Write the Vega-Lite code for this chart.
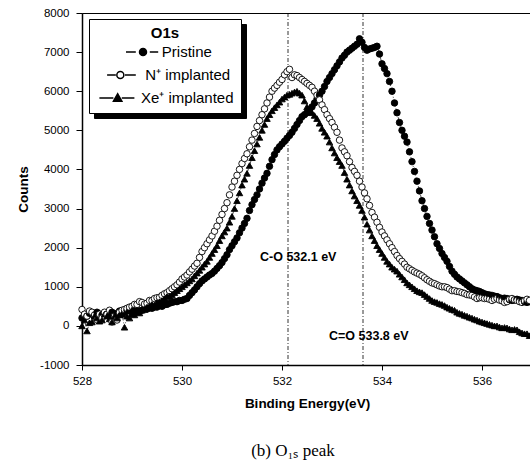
{
  "$schema": "https://vega.github.io/schema/vega-lite/v6.json",
  "width": 450,
  "height": 352,
  "autosize": "none",
  "padding": {"left": 82, "top": 13, "right": 0, "bottom": 100},
  "background": "white",
  "title": {"text": "(b) O₁ₛ peak", "orient": "bottom", "anchor": "middle", "frame": "group", "font": "Liberation Serif", "fontSize": 17, "fontWeight": "normal", "color": "black", "offset": 33, "dx": -14},
  "datasets": {
    "xps": [
      {"e":528.00,"Pristine":200,"N⁺ implanted":420,"Xe⁺ implanted":0},
      {"e":528.05,"Pristine":280,"N⁺ implanted":300,"Xe⁺ implanted":150},
      {"e":528.10,"Pristine":250,"N⁺ implanted":250,"Xe⁺ implanted":-130},
      {"e":528.15,"Pristine":320,"N⁺ implanted":380,"Xe⁺ implanted":80},
      {"e":528.20,"Pristine":300,"N⁺ implanted":350,"Xe⁺ implanted":100},
      {"e":528.25,"Pristine":250,"N⁺ implanted":280,"Xe⁺ implanted":250},
      {"e":528.30,"Pristine":350,"N⁺ implanted":150,"Xe⁺ implanted":200},
      {"e":528.35,"Pristine":300,"N⁺ implanted":300,"Xe⁺ implanted":120},
      {"e":528.40,"Pristine":280,"N⁺ implanted":200,"Xe⁺ implanted":150},
      {"e":528.45,"Pristine":330,"N⁺ implanted":350,"Xe⁺ implanted":300},
      {"e":528.50,"Pristine":300,"N⁺ implanted":300,"Xe⁺ implanted":250},
      {"e":528.55,"Pristine":250,"N⁺ implanted":400,"Xe⁺ implanted":180},
      {"e":528.60,"Pristine":350,"N⁺ implanted":100,"Xe⁺ implanted":100},
      {"e":528.65,"Pristine":300,"N⁺ implanted":250,"Xe⁺ implanted":250},
      {"e":528.70,"Pristine":320,"N⁺ implanted":150,"Xe⁺ implanted":200},
      {"e":528.75,"Pristine":380,"N⁺ implanted":350,"Xe⁺ implanted":280},
      {"e":528.80,"Pristine":300,"N⁺ implanted":400,"Xe⁺ implanted":300},
      {"e":528.85,"Pristine":350,"N⁺ implanted":420,"Xe⁺ implanted":-35},
      {"e":528.90,"Pristine":400,"N⁺ implanted":450,"Xe⁺ implanted":250},
      {"e":528.95,"Pristine":380,"N⁺ implanted":480,"Xe⁺ implanted":200},
      {"e":529.00,"Pristine":350,"N⁺ implanted":500,"Xe⁺ implanted":300},
      {"e":529.05,"Pristine":420,"N⁺ implanted":550,"Xe⁺ implanted":280},
      {"e":529.10,"Pristine":400,"N⁺ implanted":550,"Xe⁺ implanted":350},
      {"e":529.15,"Pristine":380,"N⁺ implanted":620,"Xe⁺ implanted":330},
      {"e":529.20,"Pristine":400,"N⁺ implanted":600,"Xe⁺ implanted":400},
      {"e":529.25,"Pristine":450,"N⁺ implanted":560,"Xe⁺ implanted":420},
      {"e":529.30,"Pristine":430,"N⁺ implanted":580,"Xe⁺ implanted":480},
      {"e":529.35,"Pristine":460,"N⁺ implanted":650,"Xe⁺ implanted":500},
      {"e":529.40,"Pristine":450,"N⁺ implanted":650,"Xe⁺ implanted":550},
      {"e":529.45,"Pristine":480,"N⁺ implanted":700,"Xe⁺ implanted":520},
      {"e":529.50,"Pristine":480,"N⁺ implanted":720,"Xe⁺ implanted":600},
      {"e":529.55,"Pristine":520,"N⁺ implanted":730,"Xe⁺ implanted":620},
      {"e":529.60,"Pristine":500,"N⁺ implanted":780,"Xe⁺ implanted":650},
      {"e":529.65,"Pristine":540,"N⁺ implanted":820,"Xe⁺ implanted":700},
      {"e":529.70,"Pristine":550,"N⁺ implanted":850,"Xe⁺ implanted":750},
      {"e":529.75,"Pristine":580,"N⁺ implanted":900,"Xe⁺ implanted":760},
      {"e":529.80,"Pristine":600,"N⁺ implanted":950,"Xe⁺ implanted":800},
      {"e":529.85,"Pristine":620,"N⁺ implanted":1000,"Xe⁺ implanted":850},
      {"e":529.90,"Pristine":620,"N⁺ implanted":1050,"Xe⁺ implanted":900},
      {"e":529.95,"Pristine":650,"N⁺ implanted":1120,"Xe⁺ implanted":950},
      {"e":530.00,"Pristine":650,"N⁺ implanted":1200,"Xe⁺ implanted":1000},
      {"e":530.05,"Pristine":680,"N⁺ implanted":1250,"Xe⁺ implanted":1050},
      {"e":530.10,"Pristine":700,"N⁺ implanted":1300,"Xe⁺ implanted":1100},
      {"e":530.15,"Pristine":780,"N⁺ implanted":1380,"Xe⁺ implanted":1150},
      {"e":530.20,"Pristine":850,"N⁺ implanted":1450,"Xe⁺ implanted":1200},
      {"e":530.25,"Pristine":920,"N⁺ implanted":1530,"Xe⁺ implanted":1280},
      {"e":530.30,"Pristine":1000,"N⁺ implanted":1600,"Xe⁺ implanted":1350},
      {"e":530.35,"Pristine":1080,"N⁺ implanted":1750,"Xe⁺ implanted":1420},
      {"e":530.40,"Pristine":1150,"N⁺ implanted":1900,"Xe⁺ implanted":1500},
      {"e":530.45,"Pristine":1200,"N⁺ implanted":2000,"Xe⁺ implanted":1580},
      {"e":530.50,"Pristine":1250,"N⁺ implanted":2100,"Xe⁺ implanted":1650},
      {"e":530.55,"Pristine":1300,"N⁺ implanted":2200,"Xe⁺ implanted":1750},
      {"e":530.60,"Pristine":1340,"N⁺ implanted":2300,"Xe⁺ implanted":1850},
      {"e":530.65,"Pristine":1400,"N⁺ implanted":2420,"Xe⁺ implanted":1950},
      {"e":530.70,"Pristine":1470,"N⁺ implanted":2550,"Xe⁺ implanted":2050},
      {"e":530.75,"Pristine":1540,"N⁺ implanted":2700,"Xe⁺ implanted":2180},
      {"e":530.80,"Pristine":1620,"N⁺ implanted":2850,"Xe⁺ implanted":2300},
      {"e":530.85,"Pristine":1720,"N⁺ implanted":3000,"Xe⁺ implanted":2400},
      {"e":530.90,"Pristine":1820,"N⁺ implanted":3150,"Xe⁺ implanted":2500},
      {"e":530.95,"Pristine":1950,"N⁺ implanted":3350,"Xe⁺ implanted":2650},
      {"e":531.00,"Pristine":2050,"N⁺ implanted":3550,"Xe⁺ implanted":2800},
      {"e":531.05,"Pristine":2150,"N⁺ implanted":3700,"Xe⁺ implanted":3000},
      {"e":531.10,"Pristine":2250,"N⁺ implanted":3850,"Xe⁺ implanted":3200},
      {"e":531.15,"Pristine":2380,"N⁺ implanted":4000,"Xe⁺ implanted":3400},
      {"e":531.20,"Pristine":2500,"N⁺ implanted":4150,"Xe⁺ implanted":3600},
      {"e":531.25,"Pristine":2620,"N⁺ implanted":4280,"Xe⁺ implanted":3750},
      {"e":531.30,"Pristine":2750,"N⁺ implanted":4400,"Xe⁺ implanted":3900},
      {"e":531.35,"Pristine":2950,"N⁺ implanted":4580,"Xe⁺ implanted":4100},
      {"e":531.40,"Pristine":3100,"N⁺ implanted":4750,"Xe⁺ implanted":4300},
      {"e":531.45,"Pristine":3230,"N⁺ implanted":4920,"Xe⁺ implanted":4480},
      {"e":531.50,"Pristine":3350,"N⁺ implanted":5100,"Xe⁺ implanted":4650},
      {"e":531.55,"Pristine":3500,"N⁺ implanted":5250,"Xe⁺ implanted":4820},
      {"e":531.60,"Pristine":3650,"N⁺ implanted":5400,"Xe⁺ implanted":5000},
      {"e":531.65,"Pristine":3780,"N⁺ implanted":5550,"Xe⁺ implanted":5150},
      {"e":531.70,"Pristine":3900,"N⁺ implanted":5700,"Xe⁺ implanted":5300},
      {"e":531.75,"Pristine":4080,"N⁺ implanted":5850,"Xe⁺ implanted":5400},
      {"e":531.80,"Pristine":4250,"N⁺ implanted":6000,"Xe⁺ implanted":5500},
      {"e":531.85,"Pristine":4380,"N⁺ implanted":6080,"Xe⁺ implanted":5580},
      {"e":531.90,"Pristine":4500,"N⁺ implanted":6150,"Xe⁺ implanted":5650},
      {"e":531.95,"Pristine":4580,"N⁺ implanted":6230,"Xe⁺ implanted":5720},
      {"e":532.00,"Pristine":4650,"N⁺ implanted":6300,"Xe⁺ implanted":5800},
      {"e":532.05,"Pristine":4720,"N⁺ implanted":6420,"Xe⁺ implanted":5850},
      {"e":532.10,"Pristine":4800,"N⁺ implanted":6500,"Xe⁺ implanted":5900},
      {"e":532.15,"Pristine":4870,"N⁺ implanted":6560,"Xe⁺ implanted":5920},
      {"e":532.20,"Pristine":4950,"N⁺ implanted":6350,"Xe⁺ implanted":5950},
      {"e":532.25,"Pristine":5050,"N⁺ implanted":6420,"Xe⁺ implanted":5980},
      {"e":532.30,"Pristine":5150,"N⁺ implanted":6400,"Xe⁺ implanted":6000},
      {"e":532.35,"Pristine":5250,"N⁺ implanted":6350,"Xe⁺ implanted":5950},
      {"e":532.40,"Pristine":5350,"N⁺ implanted":6300,"Xe⁺ implanted":5900},
      {"e":532.45,"Pristine":5400,"N⁺ implanted":6250,"Xe⁺ implanted":5750},
      {"e":532.50,"Pristine":5450,"N⁺ implanted":6200,"Xe⁺ implanted":5600},
      {"e":532.55,"Pristine":5520,"N⁺ implanted":6150,"Xe⁺ implanted":5520},
      {"e":532.60,"Pristine":5600,"N⁺ implanted":6100,"Xe⁺ implanted":5450},
      {"e":532.65,"Pristine":5700,"N⁺ implanted":6000,"Xe⁺ implanted":5380},
      {"e":532.70,"Pristine":5800,"N⁺ implanted":5900,"Xe⁺ implanted":5300},
      {"e":532.75,"Pristine":5900,"N⁺ implanted":5780,"Xe⁺ implanted":5180},
      {"e":532.80,"Pristine":6000,"N⁺ implanted":5650,"Xe⁺ implanted":5050},
      {"e":532.85,"Pristine":6120,"N⁺ implanted":5530,"Xe⁺ implanted":4950},
      {"e":532.90,"Pristine":6250,"N⁺ implanted":5400,"Xe⁺ implanted":4850},
      {"e":532.95,"Pristine":6350,"N⁺ implanted":5300,"Xe⁺ implanted":4700},
      {"e":533.00,"Pristine":6450,"N⁺ implanted":5200,"Xe⁺ implanted":4550},
      {"e":533.05,"Pristine":6550,"N⁺ implanted":5080,"Xe⁺ implanted":4420},
      {"e":533.10,"Pristine":6650,"N⁺ implanted":4950,"Xe⁺ implanted":4300},
      {"e":533.15,"Pristine":6750,"N⁺ implanted":4750,"Xe⁺ implanted":4200},
      {"e":533.20,"Pristine":6850,"N⁺ implanted":4550,"Xe⁺ implanted":4100},
      {"e":533.25,"Pristine":6920,"N⁺ implanted":4450,"Xe⁺ implanted":3920},
      {"e":533.30,"Pristine":7000,"N⁺ implanted":4350,"Xe⁺ implanted":3750},
      {"e":533.35,"Pristine":7050,"N⁺ implanted":4200,"Xe⁺ implanted":3600},
      {"e":533.40,"Pristine":7100,"N⁺ implanted":4050,"Xe⁺ implanted":3450},
      {"e":533.45,"Pristine":7150,"N⁺ implanted":3950,"Xe⁺ implanted":3320},
      {"e":533.50,"Pristine":7200,"N⁺ implanted":3850,"Xe⁺ implanted":3200},
      {"e":533.55,"Pristine":7340,"N⁺ implanted":3700,"Xe⁺ implanted":3080},
      {"e":533.60,"Pristine":7250,"N⁺ implanted":3550,"Xe⁺ implanted":2950},
      {"e":533.65,"Pristine":7120,"N⁺ implanted":3400,"Xe⁺ implanted":2780},
      {"e":533.70,"Pristine":7050,"N⁺ implanted":3250,"Xe⁺ implanted":2600},
      {"e":533.75,"Pristine":7080,"N⁺ implanted":3080,"Xe⁺ implanted":2450},
      {"e":533.80,"Pristine":7100,"N⁺ implanted":2900,"Xe⁺ implanted":2300},
      {"e":533.85,"Pristine":7120,"N⁺ implanted":2780,"Xe⁺ implanted":2180},
      {"e":533.90,"Pristine":7150,"N⁺ implanted":2650,"Xe⁺ implanted":2050},
      {"e":533.95,"Pristine":6950,"N⁺ implanted":2520,"Xe⁺ implanted":1950},
      {"e":534.00,"Pristine":6700,"N⁺ implanted":2400,"Xe⁺ implanted":1850},
      {"e":534.05,"Pristine":6580,"N⁺ implanted":2300,"Xe⁺ implanted":1750},
      {"e":534.10,"Pristine":6450,"N⁺ implanted":2200,"Xe⁺ implanted":1650},
      {"e":534.15,"Pristine":6250,"N⁺ implanted":2100,"Xe⁺ implanted":1580},
      {"e":534.20,"Pristine":6000,"N⁺ implanted":2000,"Xe⁺ implanted":1500},
      {"e":534.25,"Pristine":5700,"N⁺ implanted":1900,"Xe⁺ implanted":1450},
      {"e":534.30,"Pristine":5450,"N⁺ implanted":1800,"Xe⁺ implanted":1400},
      {"e":534.35,"Pristine":5200,"N⁺ implanted":1720,"Xe⁺ implanted":1320},
      {"e":534.40,"Pristine":5000,"N⁺ implanted":1650,"Xe⁺ implanted":1250},
      {"e":534.45,"Pristine":4850,"N⁺ implanted":1580,"Xe⁺ implanted":1180},
      {"e":534.50,"Pristine":4700,"N⁺ implanted":1500,"Xe⁺ implanted":1100},
      {"e":534.55,"Pristine":4450,"N⁺ implanted":1460,"Xe⁺ implanted":1050},
      {"e":534.60,"Pristine":4200,"N⁺ implanted":1420,"Xe⁺ implanted":1000},
      {"e":534.65,"Pristine":3950,"N⁺ implanted":1380,"Xe⁺ implanted":950},
      {"e":534.70,"Pristine":3700,"N⁺ implanted":1350,"Xe⁺ implanted":900},
      {"e":534.75,"Pristine":3450,"N⁺ implanted":1320,"Xe⁺ implanted":870},
      {"e":534.80,"Pristine":3200,"N⁺ implanted":1280,"Xe⁺ implanted":850},
      {"e":534.85,"Pristine":3000,"N⁺ implanted":1230,"Xe⁺ implanted":800},
      {"e":534.90,"Pristine":2800,"N⁺ implanted":1180,"Xe⁺ implanted":750},
      {"e":534.95,"Pristine":2620,"N⁺ implanted":1140,"Xe⁺ implanted":700},
      {"e":535.00,"Pristine":2450,"N⁺ implanted":1100,"Xe⁺ implanted":650},
      {"e":535.05,"Pristine":2280,"N⁺ implanted":1080,"Xe⁺ implanted":620},
      {"e":535.10,"Pristine":2100,"N⁺ implanted":1050,"Xe⁺ implanted":600},
      {"e":535.15,"Pristine":1980,"N⁺ implanted":1020,"Xe⁺ implanted":570},
      {"e":535.20,"Pristine":1850,"N⁺ implanted":1000,"Xe⁺ implanted":550},
      {"e":535.25,"Pristine":1750,"N⁺ implanted":1000,"Xe⁺ implanted":520},
      {"e":535.30,"Pristine":1650,"N⁺ implanted":980,"Xe⁺ implanted":480},
      {"e":535.35,"Pristine":1520,"N⁺ implanted":940,"Xe⁺ implanted":450},
      {"e":535.40,"Pristine":1400,"N⁺ implanted":900,"Xe⁺ implanted":420},
      {"e":535.45,"Pristine":1320,"N⁺ implanted":900,"Xe⁺ implanted":400},
      {"e":535.50,"Pristine":1250,"N⁺ implanted":880,"Xe⁺ implanted":350},
      {"e":535.55,"Pristine":1200,"N⁺ implanted":870,"Xe⁺ implanted":320},
      {"e":535.60,"Pristine":1150,"N⁺ implanted":850,"Xe⁺ implanted":300},
      {"e":535.65,"Pristine":1100,"N⁺ implanted":830,"Xe⁺ implanted":270},
      {"e":535.70,"Pristine":1050,"N⁺ implanted":800,"Xe⁺ implanted":250},
      {"e":535.75,"Pristine":1000,"N⁺ implanted":790,"Xe⁺ implanted":220},
      {"e":535.80,"Pristine":950,"N⁺ implanted":780,"Xe⁺ implanted":200},
      {"e":535.85,"Pristine":920,"N⁺ implanted":740,"Xe⁺ implanted":170},
      {"e":535.90,"Pristine":900,"N⁺ implanted":700,"Xe⁺ implanted":150},
      {"e":535.95,"Pristine":880,"N⁺ implanted":720,"Xe⁺ implanted":120},
      {"e":536.00,"Pristine":850,"N⁺ implanted":720,"Xe⁺ implanted":100},
      {"e":536.05,"Pristine":820,"N⁺ implanted":700,"Xe⁺ implanted":80},
      {"e":536.10,"Pristine":800,"N⁺ implanted":700,"Xe⁺ implanted":60},
      {"e":536.15,"Pristine":790,"N⁺ implanted":680,"Xe⁺ implanted":40},
      {"e":536.20,"Pristine":780,"N⁺ implanted":650,"Xe⁺ implanted":20},
      {"e":536.25,"Pristine":760,"N⁺ implanted":680,"Xe⁺ implanted":0},
      {"e":536.30,"Pristine":750,"N⁺ implanted":700,"Xe⁺ implanted":0},
      {"e":536.35,"Pristine":720,"N⁺ implanted":660,"Xe⁺ implanted":-30},
      {"e":536.40,"Pristine":700,"N⁺ implanted":640,"Xe⁺ implanted":-50},
      {"e":536.45,"Pristine":710,"N⁺ implanted":600,"Xe⁺ implanted":-40},
      {"e":536.50,"Pristine":700,"N⁺ implanted":620,"Xe⁺ implanted":-50},
      {"e":536.55,"Pristine":670,"N⁺ implanted":680,"Xe⁺ implanted":-80},
      {"e":536.60,"Pristine":650,"N⁺ implanted":700,"Xe⁺ implanted":-100},
      {"e":536.65,"Pristine":660,"N⁺ implanted":670,"Xe⁺ implanted":-90},
      {"e":536.70,"Pristine":680,"N⁺ implanted":650,"Xe⁺ implanted":-100},
      {"e":536.75,"Pristine":660,"N⁺ implanted":620,"Xe⁺ implanted":-150},
      {"e":536.80,"Pristine":650,"N⁺ implanted":600,"Xe⁺ implanted":-180},
      {"e":536.85,"Pristine":620,"N⁺ implanted":640,"Xe⁺ implanted":-200},
      {"e":536.90,"Pristine":600,"N⁺ implanted":680,"Xe⁺ implanted":-200},
      {"e":536.95,"Pristine":620,"N⁺ implanted":650,"Xe⁺ implanted":-250}
    ],
    "refs": [{"e": 532.12}, {"e": 533.62}],
    "notes": [
      {"e": 531.56, "c": 1755, "t": "C-O 532.1 eV"},
      {"e": 532.94, "c": -265, "t": "C=O 533.8 eV"}
    ],
    "keys": []
  },
  "layer": [
    {
      "data": {"name": "refs"},
      "mark": {"type": "rule", "stroke": "black", "strokeWidth": 0.8, "strokeDash": [4, 2, 1, 2]},
      "encoding": {
        "x": {
          "field": "e", "type": "quantitative",
          "scale": {"domain": [528, 537], "nice": false, "zero": false},
          "axis": {"title": "Binding Energy(eV)", "values": [528, 530, 532, 534, 536], "tickCount": 20, "labelExpr": "'' + datum.value", "labelOverlap": false}
        }
      }
    },
    {
      "data": {"name": "xps"},
      "transform": [{"fold": ["Pristine", "N⁺ implanted", "Xe⁺ implanted"], "as": ["series", "counts"]}],
      "mark": {"type": "line", "stroke": "black", "strokeWidth": 0.7},
      "encoding": {
        "x": {"field": "e", "type": "quantitative"},
        "y": {
          "field": "counts", "type": "quantitative",
          "scale": {"domain": [-1000, 8000], "nice": false, "zero": false},
          "axis": {"title": "Counts", "values": [-1000, 0, 1000, 2000, 3000, 4000, 5000, 6000, 7000, 8000], "tickCount": 20, "labelExpr": "'' + datum.value", "labelOverlap": false}
        },
        "strokeDash": {
          "field": "series", "type": "nominal",
          "scale": {"domain": ["Xe⁺ implanted", "N⁺ implanted", "Pristine"], "range": [[4, 2, 1, 2], [4, 2, 1, 2], [4, 2, 1, 2]]},
          "legend": {
            "title": "O1s", "orient": "none", "legendX": 12, "legendY": 11, "zindex": 0,
            "fillColor": "black", "strokeColor": "black", "labelColor": "black", "titleColor": "black", "symbolStrokeColor": "black"
          }
        }
      }
    },
    {
      "data": {"name": "xps"},
      "transform": [{"fold": ["Pristine", "N⁺ implanted", "Xe⁺ implanted"], "as": ["series", "counts"]}],
      "mark": {"type": "point", "filled": true, "stroke": "black", "strokeWidth": 0.9, "opacity": 1, "size": 42},
      "encoding": {
        "x": {"field": "e", "type": "quantitative"},
        "y": {"field": "counts", "type": "quantitative"},
        "shape": {
          "field": "series", "type": "nominal", "legend": null,
          "scale": {"domain": ["Pristine", "N⁺ implanted", "Xe⁺ implanted"], "range": ["circle", "circle", "triangle-up"]}
        },
        "fill": {
          "field": "series", "type": "nominal", "legend": null,
          "scale": {"domain": ["Pristine", "N⁺ implanted", "Xe⁺ implanted"], "range": ["black", "white", "black"]}
        }
      }
    },
    {
      "data": {"name": "keys"},
      "mark": {"type": "point", "filled": true, "stroke": "black", "strokeWidth": 1.1, "opacity": 1},
      "encoding": {
        "x": {"field": "e", "type": "quantitative"},
        "y": {"field": "c", "type": "quantitative"},
        "shape": {
          "field": "series", "type": "nominal",
          "scale": {"domain": ["Pristine", "N⁺ implanted", "Xe⁺ implanted"], "range": [
            "M1.5,0H2.9M4.9,0H6.1M3.43,0A0.5,0.5 0 1,0 4.43,0A0.5,0.5 0 1,0 3.43,0Z",
            "M-1.2,0H0.05M1.35,0H2.9M0.19,0A0.5,0.5 0 1,0 1.19,0A0.5,0.5 0 1,0 0.19,0Z",
            "M-2.3,0H-0.3M0.9,0H2.7M-0.29,0.45L0.31,-0.6L0.91,0.45Z"
          ]},
          "legend": {"title": "O1s", "zindex": 1, "labelExpr": "datum.label == 'Pristine' ? '\u200b\u00a0\u00a0\u00a0\u00a0\u00a0Pristine' : datum.label == 'N⁺ implanted' ? '\u200b\u00a0N⁺ implanted' : datum.label"}
        },
        "fill": {
          "field": "series", "type": "nominal",
          "scale": {"domain": ["Pristine", "N⁺ implanted", "Xe⁺ implanted"], "range": ["black", "white", "black"]},
          "legend": {"title": "O1s", "zindex": 1, "labelExpr": "datum.label == 'Pristine' ? '\u200b\u00a0\u00a0\u00a0\u00a0\u00a0Pristine' : datum.label == 'N⁺ implanted' ? '\u200b\u00a0N⁺ implanted' : datum.label"}
        }
      }
    },
    {
      "data": {"name": "notes"},
      "mark": {"type": "text", "align": "left", "baseline": "middle", "font": "Liberation Sans", "fontWeight": "bold", "fontSize": 12.5, "color": "black"},
      "encoding": {
        "x": {"field": "e", "type": "quantitative"},
        "y": {"field": "c", "type": "quantitative"},
        "text": {"field": "t"}
      }
    }
  ],
  "resolve": {"scale": {"shape": "independent", "fill": "independent"}},
  "config": {
    "font": "Liberation Sans",
    "view": {"stroke": "black", "strokeWidth": 1},
    "axis": {"labelOverlap": false},
    "axisX": {
      "domainColor": "black", "domainWidth": 1.5, "tickColor": "black", "tickSize": 5, "tickWidth": 1,
      "labelFont": "Liberation Sans", "labelFontSize": 11.5, "labelColor": "black", "labelPadding": 5,
      "titleFont": "Liberation Sans", "titleFontSize": 13.5, "titleFontWeight": "bold", "titleColor": "black", "titlePadding": 10,
      "grid": false, "labelFlush": false, "labelOverlap": false
    },
    "axisY": {
      "domainColor": "black", "domainWidth": 1.5, "tickColor": "black", "tickSize": 6, "tickWidth": 1,
      "labelFont": "Liberation Sans", "labelFontSize": 11.5, "labelColor": "black", "labelPadding": 7,
      "titleFont": "Liberation Sans", "titleFontSize": 13.5, "titleFontWeight": "bold", "titleColor": "black", "titlePadding": 9,
      "grid": false, "labelFlush": false, "labelOverlap": false
    },
    "legend": {
      "orient": "none", "legendX": 7, "legendY": 6,
      "fillColor": "white", "strokeColor": "black",
      "padding": 7, "titlePadding": 3, "rowPadding": 7,
      "titleFont": "Liberation Sans", "titleFontSize": 15, "titleFontWeight": "bold", "titleAnchor": "middle",
      "labelFont": "Liberation Sans", "labelFontSize": 15, "labelColor": "black", "titleColor": "black",
      "symbolSize": 196, "symbolOffset": 11.5, "labelOffset": 17.5, "strokeWidth": 1, "cornerRadius": 0
    }
  }
}
